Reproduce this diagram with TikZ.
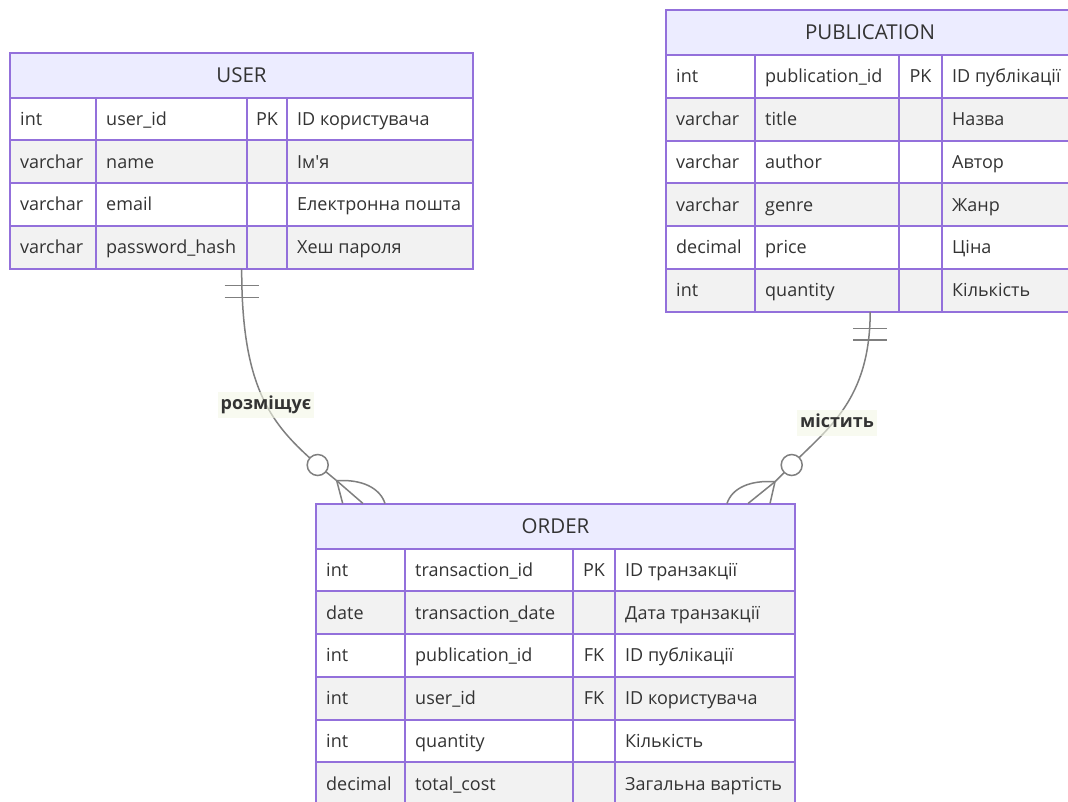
\documentclass[tikz,border=0pt]{standalone}
\usepackage{fontspec}
\newfontfamily\erfont{Open Sans}
\usetikzlibrary{calc}

\definecolor{erborder}{HTML}{9370DB}
\definecolor{erhead}{HTML}{ECECFF}
\definecolor{errowalt}{HTML}{F2F2F2}
\definecolor{ertext}{HTML}{333333}
\definecolor{erline}{HTML}{7F7F7F}
\definecolor{erlabel}{HTML}{F4F8E6}

\tikzset{
  erfontstyle/.style={font=\erfont\fontsize{18}{21}\selectfont, text=ertext},
  cell/.style={erfontstyle, anchor=west, inner sep=0pt, text height=13pt, text depth=0pt},
  keycell/.style={erfontstyle, inner sep=0pt, text height=13pt, text depth=0pt},
  headtext/.style={font=\erfont\fontsize{20.5}{24}\selectfont, text=ertext,
    inner sep=0pt, text height=14.6pt, text depth=0pt},
  gridline/.style={draw=erborder, line width=2pt},
  rel/.style={draw=erline, line width=1.5pt},
  relabel/.style={font=\erfont\bfseries\fontsize{18}{21}\selectfont, text=ertext,
    fill=erlabel, fill opacity=0.6, text opacity=1,
    inner xsep=3pt, inner ysep=4.5pt, text height=13pt, text depth=4pt},
  zerocircle/.style={draw=erline, fill=white, line width=1.5pt, circle,
    minimum size=21pt, inner sep=0pt}
}

% Entity table: #1 name, #2..#6 column edges, #7 top, #8 title, #9 rows
\newcommand\ertable[9]{%
  \pgfmathsetmacro\erhb{#7+45}%
  \fill[erhead] (#2,#7) rectangle (#6,\erhb);
  \node[headtext] (#1-title) at ({(#2+#6)/2},{(#7+\erhb)/2}) {#8};
  \foreach \ty/\nm/\ky/\cm [count=\i from 0] in {#9}{
    \pgfmathsetmacro\erya{\erhb+\i*42.75}
    \pgfmathsetmacro\erym{\erya+21.375}
    \ifodd\i\relax
      \fill[errowalt] (#2,\erya) rectangle (#6,\erya+42.75);
    \else
      \fill[white] (#2,\erya) rectangle (#6,\erya+42.75);
    \fi
    \node[cell] (#1-\i-type) at (#2+10,\erym) {\ty};
    \node[cell] (#1-\i-name) at (#3+10,\erym) {\nm};
    \node[keycell] (#1-\i-key) at ({(#4+#5)/2},\erym) {\ky};
    \node[cell] (#1-\i-note) at (#5+10,\erym) {\cm};
    \xdef\errows{\i}
  }
  \pgfmathsetmacro\erbot{\erhb+(\errows+1)*42.75}%
  \node[inner sep=0pt, anchor=north west, minimum width={(#6-#2)*1pt},
    minimum height={(\erbot-#7)*1pt}] (#1) at (#2,#7) {};
  \draw[gridline] (#2,\erhb) -- (#6,\erhb);
  \foreach \k in {1,...,\errows}
    \draw[gridline] (#2,{\erhb+\k*42.75}) -- (#6,{\erhb+\k*42.75});
  \foreach \xx in {#3,#4,#5}
    \draw[gridline] (\xx,\erhb) -- (\xx,\erbot);
  \draw[gridline] (#2,#7) rectangle (#6,\erbot);
}

\begin{document}
\begin{tikzpicture}[x=1pt,y=-1pt]
\useasboundingbox (0,0) rectangle (1068,801);
\fill[white] (0,0) rectangle (1068,801);
\clip (0,0) rectangle (1068,801);

\ertable{user}{10}{96}{247}{287}{473}{52.5}{USER}{
  int/user\_id/PK/ID користувача,
  varchar/name//Ім'я,
  varchar/email//Електронна пошта,
  varchar/password\_hash//Хеш пароля}

\ertable{publication}{666}{755}{899}{942}{1074}{10}{PUBLICATION}{
  int/publication\_id/PK/ID публікації,
  varchar/title//Назва,
  varchar/author//Автор,
  varchar/genre//Жанр,
  decimal/price//Ціна,
  int/quantity//Кількість}

\ertable{order}{316}{405}{573}{615}{795}{503.5}{ORDER}{
  int/transaction\_id/PK/ID транзакції,
  date/transaction\_date//Дата транзакції,
  int/publication\_id/FK/ID публікації,
  int/user\_id/FK/ID користувача,
  int/quantity//Кількість,
  decimal/total\_cost//Загальна вартість}

% USER -- ORDER : розміщує (exactly one to zero or more)
\coordinate (uz) at (317.7,465);
\coordinate (uf) at (336.7,480.7);
\coordinate (ufa) at ($(order.north west)+(26.7,0)$);
\coordinate (ufb) at ($(order.north west)+(47,0)$);
\coordinate (ufc) at ($(order.north west)+(69,0)$);
\draw[rel] (user.south) .. controls (241.5,390) and (272,425) .. (uz) -- (uf);
\draw[rel] ($(user.south)+(-17,16.5)$) -- ++(34,0);
\draw[rel] ($(user.south)+(-17,28.8)$) -- ++(34,0);
\draw[rel] (uf) -- (ufa);
\draw[rel] (uf) -- (ufb);
\draw[rel] (uf) .. controls (362,479) and (380,488) .. (ufc);
\node[zerocircle] (userzero) at (uz) {};
\node[relabel] (userlabel) at (266,405) {розміщує};

% PUBLICATION -- ORDER : містить (exactly one to zero or more)
\coordinate (pz) at (791.7,465);
\coordinate (pf) at (775,481.7);
\coordinate (pfa) at ($(order.north west)+(454,0)$);
\coordinate (pfb) at ($(order.north west)+(432,0)$);
\coordinate (pfc) at ($(order.north west)+(411,0)$);
\draw[rel] (publication.south) .. controls (870,400) and (828,428) .. (pz) -- (pf);
\draw[rel] ($(publication.south)+(-17,16.5)$) -- ++(34,0);
\draw[rel] ($(publication.south)+(-17,28)$) -- ++(34,0);
\draw[rel] (pf) -- (pfa);
\draw[rel] (pf) -- (pfb);
\draw[rel] (pf) .. controls (750,480) and (732,488) .. (pfc);
\node[zerocircle] (pubzero) at (pz) {};
\node[relabel] (publabel) at (837,423) {містить};
\end{tikzpicture}
\end{document}
